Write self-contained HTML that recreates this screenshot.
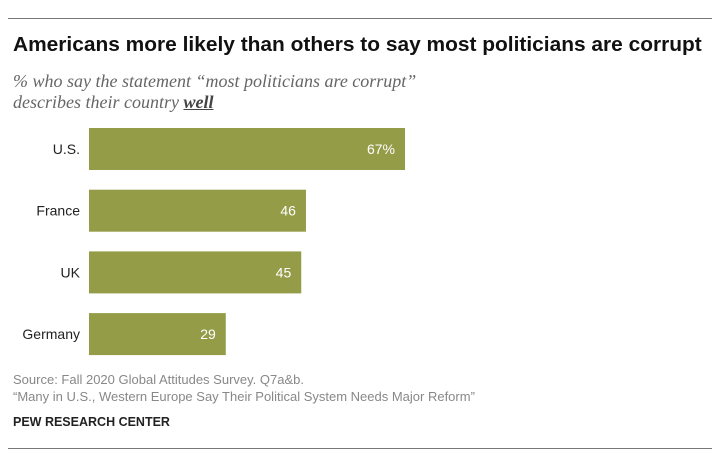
<!DOCTYPE html>
<html><head><meta charset="utf-8"><style>
body{margin:0;width:720px;height:466px;background:#fff;position:relative;overflow:hidden;font-family:"Liberation Sans",sans-serif}
.abs{position:absolute}
</style></head><body>
<div class="abs" style="left:8px;top:18px;width:704px;height:1px;background:#777"></div>
<div class="abs" style="left:13px;top:34px;font-size:20px;font-weight:bold;color:#111;white-space:nowrap;transform:scaleX(1.045);transform-origin:left">Americans more likely than others to say most politicians are corrupt</div>
<div class="abs" style="left:13px;top:71px;font-family:'Liberation Serif',serif;font-style:italic;font-size:18px;line-height:21px;color:#666;white-space:nowrap">% who say the statement “most politicians are corrupt”<br>describes their country <b style="text-decoration:underline;color:#444">well</b></div>
<svg class="abs" style="left:0;top:0" width="720" height="466" id="chart"></svg>
<div class="abs" style="left:13px;top:371px;font-size:13px;line-height:17px;color:#888;white-space:nowrap">Source: Fall 2020 Global Attitudes Survey. Q7a&amp;b.<br>“Many in U.S., Western Europe Say Their Political System Needs Major Reform”</div>
<div class="abs" style="left:13px;top:415px;font-size:12.5px;font-weight:bold;color:#222">PEW RESEARCH CENTER</div>
<div class="abs" style="left:8px;top:448px;width:704px;height:1px;background:#777"></div>
<script>
const categories=["U.S.","France","UK","Germany"];
const values=[67,46,45,29];
const labels=["67%","46","45","29"];
const svg=document.getElementById('chart');
const NS="http://www.w3.org/2000/svg";
const x0=89, scale=316/67, top0=128, step=61.7, bh=42;
const xs=v=>x0+v*scale;
categories.forEach((c,i)=>{
  const y=top0+i*step;
  const r=document.createElementNS(NS,'rect');
  r.setAttribute('x',x0);r.setAttribute('y',y);r.setAttribute('width',xs(values[i])-x0);r.setAttribute('height',bh);r.setAttribute('fill','#949c48');
  
  
  svg.appendChild(r);
  const t=document.createElementNS(NS,'text');
  t.setAttribute('x',80);t.setAttribute('y',y+bh/2+5);t.setAttribute('text-anchor','end');t.setAttribute('font-size','14');t.setAttribute('fill','#222');t.textContent=c;
  
  
  svg.appendChild(t);
  const v=document.createElementNS(NS,'text');
  v.setAttribute('x',xs(values[i])-10);v.setAttribute('y',y+bh/2+5);v.setAttribute('text-anchor','end');v.setAttribute('font-size','14');v.setAttribute('fill','#fff');v.textContent=labels[i];
  
  
  svg.appendChild(v);
});
</script>
</body></html>
